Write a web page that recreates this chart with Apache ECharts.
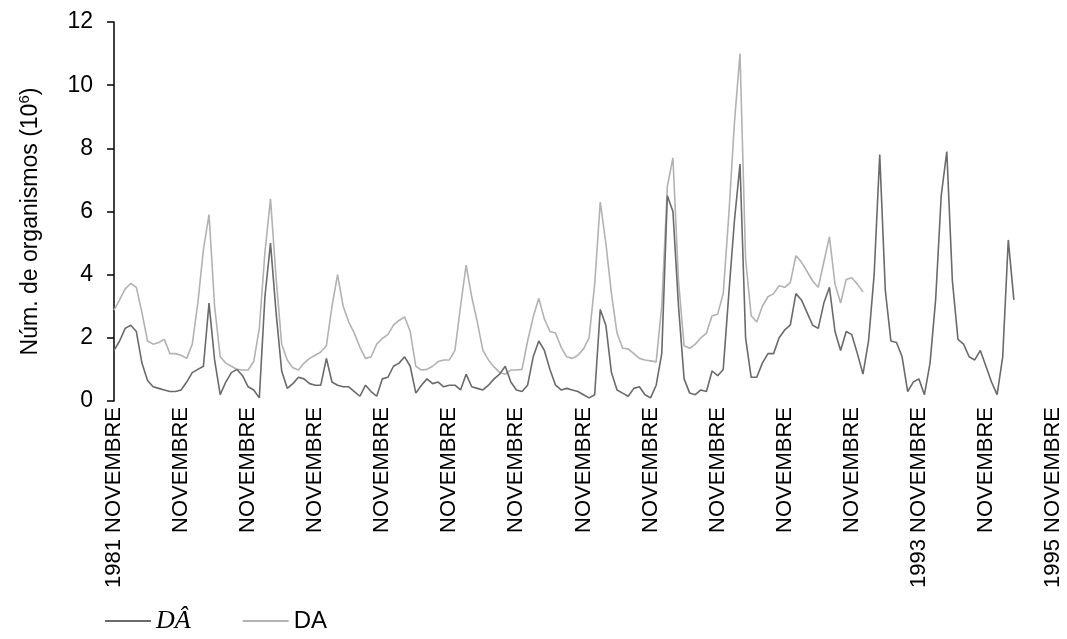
<!DOCTYPE html>
<html>
<head>
<meta charset="utf-8">
<script src="https://cdn.jsdelivr.net/npm/echarts@6/dist/echarts.min.js"></script>
<style>
  html, body { margin: 0; padding: 0; background: #fff; }
  #chart { width: 1067px; height: 639px; }
</style>
</head>
<body>
<div id="chart"></div>
<script>
// monthly samples, Nov 1981 .. Nov 1995
const categories = [];
for (let y = 1981; y <= 1995; y++) {
  for (let m = 0; m < 12; m++) {
    const mm = (m + 10) % 12 + 1;
    const yy = m < 2 ? y : y + 1;
    categories.push(yy + '-' + (mm < 10 ? '0' : '') + mm);
  }
}
categories.length = 169;

// labels under the ticks (one per year, in November)
const tickMonth = 'NOVEMBRE';
const tickYears = { 0: '1981', 144: '1993', 168: '1995' };

const seriesNames = ['D\u00C2', 'DA'];

const darkValues = [
  1.6, 1.9, 2.3, 2.4, 2.2, 1.2, 0.65, 0.45, 0.4, 0.35, 0.3, 0.3,
  0.35, 0.6, 0.9, 1.0, 1.1, 3.1, 1.3, 0.2, 0.6, 0.9, 1.0, 0.8,
  0.45, 0.35, 0.1, 3.3, 5.0, 2.8, 0.95, 0.4, 0.55, 0.75, 0.7, 0.55,
  0.5, 0.5, 1.35, 0.6, 0.5, 0.45, 0.45, 0.3, 0.15, 0.5, 0.3, 0.15,
  0.7, 0.75, 1.1, 1.2, 1.4, 1.1, 0.25, 0.5, 0.7, 0.55, 0.6, 0.45,
  0.5, 0.5, 0.35, 0.85, 0.45, 0.4, 0.35, 0.5, 0.7, 0.85, 1.1, 0.6,
  0.35, 0.3, 0.5, 1.4, 1.9, 1.6, 1.0, 0.5, 0.35, 0.4, 0.35, 0.3,
  0.2, 0.1, 0.2, 2.9, 2.4, 0.9, 0.35, 0.25, 0.15, 0.4, 0.45, 0.2,
  0.1, 0.5, 1.5, 6.5, 6.0, 3.0, 0.7, 0.25, 0.2, 0.35, 0.3, 0.95,
  0.8, 1.0, 3.4, 5.7, 7.5, 2.0, 0.75, 0.75, 1.2, 1.5, 1.5, 2.0,
  2.25, 2.4, 3.4, 3.2, 2.8, 2.4, 2.3, 3.1, 3.6, 2.2, 1.6, 2.2,
  2.1, 1.5, 0.85, 1.9, 4.0, 7.8, 3.5, 1.9, 1.85, 1.4, 0.3, 0.6,
  0.7, 0.2, 1.2, 3.2, 6.5, 7.9, 3.8, 1.95, 1.8, 1.4, 1.3, 1.6,
  1.1, 0.6, 0.2, 1.4, 5.1, 3.2
];

const lightValues = [
  2.88, 3.2, 3.55, 3.72, 3.6, 2.8, 1.9, 1.8, 1.85, 1.95, 1.5, 1.5,
  1.45, 1.35, 1.8, 3.1, 4.8, 5.9, 3.0, 1.4, 1.2, 1.1, 1.0, 0.98,
  0.98, 1.25, 2.3, 4.7, 6.4, 3.9, 1.8, 1.3, 1.05, 0.98, 1.2, 1.35,
  1.45, 1.55, 1.75, 3.0, 4.0, 3.0, 2.5, 2.15, 1.7, 1.35, 1.4, 1.8,
  1.98, 2.1, 2.4, 2.55, 2.66, 2.2, 1.1, 0.98, 1.0, 1.1, 1.25, 1.3,
  1.3, 1.6, 3.0, 4.3, 3.3, 2.5, 1.6, 1.3, 1.08, 0.9, 0.85, 0.98,
  0.98, 1.0, 1.9, 2.66, 3.25, 2.6, 2.2, 2.15, 1.7, 1.4, 1.35, 1.45,
  1.65, 2.0, 3.7, 6.3, 5.0, 3.4, 2.15, 1.67, 1.65, 1.5, 1.35, 1.3,
  1.27, 1.24, 3.0, 6.8, 7.7, 3.8, 1.75, 1.67, 1.8, 2.0, 2.15, 2.7,
  2.75, 3.4, 5.9, 8.8, 11.0, 4.5, 2.7, 2.5, 3.0, 3.3, 3.4, 3.65,
  3.6, 3.75, 4.6, 4.4, 4.1, 3.8, 3.6, 4.4, 5.2, 3.7, 3.1, 3.85,
  3.9, 3.7, 3.45
];

const chart = echarts.init(document.getElementById('chart'));
const font = 'Liberation Sans, Arial, sans-serif';

chart.setOption({
  animation: false,
  textStyle: { fontFamily: font },
  grid: { left: 114, right: 14, top: 22, bottom: 238 },
  legend: {
    left: 105,
    top: 608,
    padding: 0,
    icon: 'rect',
    itemWidth: 46,
    itemHeight: 2,
    itemGap: 52,
    textStyle: { fontSize: 24, color: '#000', fontFamily: font },
    data: [
      { name: seriesNames[0], textStyle: { fontSize: 26, fontFamily: 'Liberation Serif, serif', fontStyle: 'italic' } },
      { name: seriesNames[1] }
    ]
  },
  xAxis: {
    type: 'category',
    data: categories,
    boundaryGap: false,
    axisLine: { show: false },
    axisTick: { show: false },
    axisLabel: {
      interval: 11,
      rotate: 90,
      margin: 6,
      fontSize: 22,
      color: '#000',
      formatter: function (v, i) {
        return tickYears[i] ? tickYears[i] + ' ' + tickMonth : tickMonth;
      }
    }
  },
  yAxis: {
    type: 'value',
    min: 0,
    max: 12,
    interval: 2,
    name: '{a|Núm. de organismos (10}{s|6}{a|)}',
    nameLocation: 'middle',
    nameGap: 70,
    nameTextStyle: {
      padding: [0, 20, 0, 0],
      rich: {
        a: { fontSize: 23, color: '#000', fontFamily: font, lineHeight: 27 },
        s: { fontSize: 15, color: '#000', fontFamily: font, verticalAlign: 'top', lineHeight: 18 }
      }
    },
    axisLine: { show: true, lineStyle: { color: '#000', width: 1.5 } },
    axisTick: { show: true, length: 7, lineStyle: { color: '#000', width: 1.5 } },
    axisLabel: { fontSize: 23, color: '#000', margin: 21 },
    splitLine: { show: false }
  },
  series: [
    {
      name: seriesNames[0],
      type: 'line',
      data: darkValues,
      symbol: 'none',
      lineStyle: { color: '#6a6a6a', width: 1.6 },
      itemStyle: { color: '#6a6a6a' }
    },
    {
      name: seriesNames[1],
      type: 'line',
      data: lightValues,
      symbol: 'none',
      lineStyle: { color: '#b2b2b2', width: 1.6 },
      itemStyle: { color: '#b2b2b2' },
      z: 1
    }
  ]
});
</script>
</body>
</html>
